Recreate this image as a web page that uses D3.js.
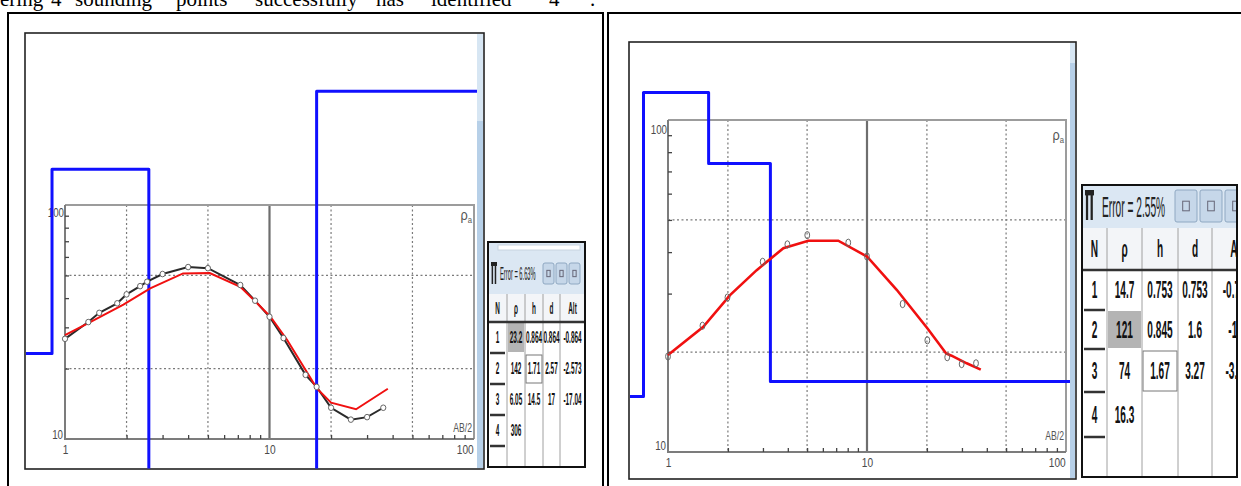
<!DOCTYPE html>
<html><head><meta charset="utf-8">
<script src="https://cdn.jsdelivr.net/npm/d3@7"></script>
<style>body{margin:0;background:#fff;overflow:hidden}svg{display:block}</style>
</head><body>
<svg id="c" width="1241" height="486"></svg>
<script>
// ---------------- DATA ----------------
const topWords = ["ering","4","sounding","points","successfully","has","identified","4","."];

// Left sounding (AB/2 in m, apparent resistivity in ohm-m)
const leftObsX  = [1,1.3,1.47,1.8,2,2.33,2.52,3,4,5,7.2,8.5,10,11.7,15,17,20,25,30,36];
const leftObsY  = [26.8,31.6,34.6,38,41.5,45,47,50.7,54.3,53.7,45.5,39,33.3,27,18.8,16.7,13.6,12.1,12.4,13.6];
const leftCalcX = [1,1.3,1.93,2.61,3.78,5.1,7.2,8.7,10.1,12.2,15.3,17,20,26.5,37.9];
const leftCalcY = [27.8,31.3,37.5,44,51,51.2,44.7,38,33.3,26.5,19.2,16.5,14.3,13.4,16.4];
const leftModelRho   = [23.2,142,6.05,306];
const leftModelDepth = [0.864,2.57,17];
const leftError = "Error = 6.63%";
const leftTableHead = ["N","\u03C1","h","d","Alt"];
const leftTableRows = [["1","23.2","0.864","0.864","-0.864"],["2","142","1.71","2.57","-2.573"],["3","6.05","14.5","17","-17.04"],["4","306","","",""]];

// Right sounding
const rightObsX  = [1,1.49,1.99,2.99,3.98,5.01,8.05,10,15.1,20.1,25.3,29.9,35.3];
const rightObsY  = [19.4,24.0,29.2,37.4,42.2,45.0,42.7,38.8,27.9,21.7,19.3,18.4,18.5];
const rightCalcX = [1,1.5,2.05,2.79,3.8,5.07,7.17,10,14.1,20.1,25,26.6,31.7,37.3];
const rightCalcY = [19.6,23.8,29.7,35.3,41.1,43.3,43.3,38.8,30.8,23.6,19.8,19.5,18.5,17.7];
const rightModelRho   = [14.7,121,74,16.3];
const rightModelDepth = [0.753,1.6,3.27];
const rightError = "Error = 2.55%";
const rightTableHead = ["N","\u03C1","h","d","Alt"];
const rightTableRows = [["1","14.7","0.753","0.753","-0.753"],["2","121","0.845","1.6","-1.6"],["3","74","1.67","3.27","-3.27"],["4","16.3","","",""]];

const xLabels = [1,10,100];
const minorX = [2,3,4,5,6,7,8,9,20,30,40,50,60,70,80,90];
const minorY = [20,30,40,50,60,70,80,90];
const gridXDashed = [2,5,20,50];
const gridXSolid = [10];
const gridY = [20,50];

// ---------------- DRAW ----------------
const svg = d3.select("#c");
const SANS = "'Liberation Sans', Arial, sans-serif";
function txt(g, x, y, s, o = {}) {
  return g.append("text")
    .attr("transform", `translate(${x},${y}) scale(${o.sx || 1},1)`)
    .attr("text-anchor", o.anchor || "start")
    .attr("font-family", o.family || SANS)
    .attr("font-size", o.size || 12)
    .attr("font-weight", o.weight || "normal")
    .attr("font-style", o.style || "normal")
    .attr("fill", o.fill || "#000")
    .text(s);
}

// top line of document text (cut by the top edge, as in the source page)
const topX = [0,51,75,176,255,376,431,549,590];
topWords.forEach((w, i) => txt(svg, topX[i], 6, w, {family: "'Liberation Serif','Times New Roman',serif", size: 21}));

// document table frames
const frame = svg.append("g").attr("stroke", "#000").attr("stroke-width", 2).attr("fill", "none");
frame.append("path").attr("d", "M8,487V13H603V487");
frame.append("path").attr("d", "M608,487V13H1245");

function panel(p, d) {
  const g = svg.append("g");
  g.append("rect").attr("x", p.frame[0]).attr("y", p.frame[1]).attr("width", p.frame[2] - p.frame[0]).attr("height", p.frame[3] - p.frame[1])
    .attr("fill", "#fff").attr("stroke", "#222").attr("stroke-width", 1.6);
  g.append("rect").attr("x", p.bar[0]).attr("y", p.frame[1] + 1).attr("width", p.frame[2] - p.bar[0] - 1).attr("height", p.frame[3] - p.frame[1] - 2).attr("fill", "#b7d0e8");
  g.append("rect").attr("x", p.bar[0]).attr("y", p.frame[1] + 1).attr("width", p.frame[2] - p.bar[0] - 1).attr("height", p.bar[1]).attr("fill", "#d7e6f3");

  const x = d3.scaleLog().domain([1, 100]).range([p.x0, p.x1]);
  const y = d3.scaleLog().domain([10, 100]).range([p.yBot, p.yTop]);

  g.selectAll(null).data(gridXDashed).join("line")
    .attr("x1", v => x(v)).attr("x2", v => x(v)).attr("y1", p.yTop).attr("y2", p.yBot)
    .attr("stroke", "#7a7a7a").attr("stroke-width", 1.2).attr("stroke-dasharray", "2,2.5");
  g.selectAll(null).data(gridY).join("line")
    .attr("y1", v => y(v)).attr("y2", v => y(v)).attr("x1", p.x0).attr("x2", p.x1)
    .attr("stroke", "#7a7a7a").attr("stroke-width", 1.2).attr("stroke-dasharray", "2,2.5");
  g.selectAll(null).data(gridXSolid).join("line")
    .attr("x1", v => x(v)).attr("x2", v => x(v)).attr("y1", p.yTop).attr("y2", p.yBot)
    .attr("stroke", "#6e6e6e").attr("stroke-width", 2.2);

  g.append("path").attr("d", `M${p.x0},${p.yTop}H${p.x1}V${p.yBot}`).attr("fill", "none").attr("stroke", "#9c9c9c").attr("stroke-width", 2);
  g.append("path").attr("d", `M${p.x0},${p.yTop}V${p.yBot}H${p.x1}`).attr("fill", "none").attr("stroke", "#7c7c7c").attr("stroke-width", 2);

  g.append("g").attr("transform", `translate(0,${p.yBot})`)
    .call(d3.axisBottom(x).tickValues(minorX).tickSize(-4).tickFormat(""))
    .call(a => a.select(".domain").remove())
    .selectAll("line").attr("stroke", "#444").attr("stroke-width", 1.3);
  g.append("g").attr("transform", `translate(${p.x0},0)`)
    .call(d3.axisLeft(y).tickValues(minorY).tickSize(-4).tickFormat(""))
    .call(a => a.select(".domain").remove())
    .selectAll("line").attr("stroke", "#444").attr("stroke-width", 1.3);

  const ax = g.append("g").attr("transform", `translate(0,${p.yBot})`)
    .call(d3.axisBottom(x).tickValues(xLabels).tickSize(0).tickPadding(p.pad).tickFormat(d3.format("d")));
  ax.select(".domain").remove();
  ax.selectAll("text").attr("font-family", SANS).attr("font-size", 13).attr("fill", "#4a4a4a")
    .attr("transform", "scale(0.78,1)")
    .attr("text-anchor", v => v === 100 ? "end" : "middle")
    .attr("x", v => v === 100 ? -1 : 0);

  txt(g, p.x0 - 1, y(100) + p.y100dy, "100", {anchor: "end", size: 13, sx: 0.75, fill: "#4a4a4a"});
  txt(g, p.x0 - 2, y(10) - p.y10dy, "10", {anchor: "end", size: 13, sx: 0.75, fill: "#4a4a4a"});

  const ra = g.append("text").attr("transform", `translate(${p.x1 - 2},${y(100) + p.rhoDy}) scale(0.85,1)`)
    .attr("text-anchor", "end").attr("font-family", SANS).attr("fill", "#555");
  ra.append("tspan").attr("font-size", 15).text("\u03C1");
  ra.append("tspan").attr("font-size", 9).attr("dy", 3).text("a");
  txt(g, p.x1 - 2, p.yBot - p.abDy, "AB/2", {anchor: "end", size: 12, sx: 0.72, fill: "#555"});

  const cid = "clip" + p.id;
  svg.append("clipPath").attr("id", cid).append("rect")
    .attr("x", p.frame[0] + 1).attr("y", p.frame[1] + 1).attr("width", p.bar[0] - p.frame[0] - 1).attr("height", p.frame[3] - p.frame[1] - 1.5);
  const mpts = [[0.2, d.rho[0]]];
  d.depth.forEach((dp, i) => mpts.push([dp, d.rho[i + 1]]));
  mpts.push([5000, d.rho[d.rho.length - 1]]);
  g.append("path").attr("clip-path", `url(#${cid})`)
    .attr("d", d3.line().x(q => x(q[0])).y(q => y(q[1])).curve(d3.curveStepAfter)(mpts))
    .attr("fill", "none").attr("stroke", "#1010ff").attr("stroke-width", 3).attr("stroke-linejoin", "round");

  const line = d3.line().x(q => x(q[0])).y(q => y(q[1]));
  const obs = d.obsX.map((v, i) => [v, d.obsY[i]]);
  const calc = d.calcX.map((v, i) => [v, d.calcY[i]]);
  if (d.obsLine) {
    g.append("path").attr("d", line(obs)).attr("fill", "none").attr("stroke", "#2a2a2a").attr("stroke-width", 2);
  }
  g.append("path").attr("d", line(calc)).attr("fill", "none").attr("stroke", "#f01010").attr("stroke-width", d.redW);
  g.selectAll(null).data(obs).join("ellipse")
    .attr("cx", q => x(q[0])).attr("cy", q => y(q[1])).attr("rx", d.rx).attr("ry", d.ry)
    .attr("fill", d.obsLine ? "#fff" : "none").attr("stroke", "#666").attr("stroke-width", 1);
}

panel({id: "L", x0: 65, x1: 474, yTop: 205, yBot: 439, frame: [25, 33, 484, 469], bar: [477, 87], pad: 6,
       y100dy: 12, y10dy: 0, rhoDy: 15, abDy: 7},
      {obsX: leftObsX, obsY: leftObsY, calcX: leftCalcX, calcY: leftCalcY, rho: leftModelRho, depth: leftModelDepth,
       obsLine: true, redW: 2, rx: 2.6, ry: 2.8});
panel({id: "R", x0: 668, x1: 1066, yTop: 120, yBot: 452, frame: [629, 42, 1076, 479], bar: [1070, 20], pad: 6,
       y100dy: 14, y10dy: 2, rhoDy: 20, abDy: 12},
      {obsX: rightObsX, obsY: rightObsY, calcX: rightCalcX, calcY: rightCalcY, rho: rightModelRho, depth: rightModelDepth,
       obsLine: false, redW: 2.6, rx: 2.4, ry: 3.6});

// ---------------- TABLES ----------------
function table(c, head, rows, title) {
  const g = svg.append("g");
  const cid = "tclip" + c.id;
  svg.append("clipPath").attr("id", cid).append("rect").attr("x", c.x).attr("y", c.y).attr("width", c.w).attr("height", c.h);
  const gc = g.append("g").attr("clip-path", `url(#${cid})`);
  gc.append("rect").attr("x", c.x).attr("y", c.y).attr("width", c.w).attr("height", c.h).attr("fill", "#fff");
  gc.append("rect").attr("x", c.x).attr("y", c.y).attr("width", c.w).attr("height", c.headTop - c.y).attr("fill", "#dbe7f3");
  if (c.whiteBar) gc.append("rect").attr("x", c.whiteBar[0]).attr("y", c.whiteBar[1]).attr("width", c.whiteBar[2]).attr("height", c.whiteBar[3]).attr("fill", "#fff").attr("stroke", "#c8d4e0");
  gc.append("rect").attr("x", c.x).attr("y", c.headTop).attr("width", c.w).attr("height", c.rows[0] - c.headTop).attr("fill", "#f3f5f8");
  const ix = c.icon[0], iy = c.icon[1], iw = c.icon[2], ih = c.icon[3];
  gc.append("rect").attr("x", ix).attr("y", iy).attr("width", iw).attr("height", ih * 0.18).attr("fill", "#222");
  gc.append("rect").attr("x", ix + iw * 0.1).attr("y", iy).attr("width", iw * 0.25).attr("height", ih).attr("fill", "#222");
  gc.append("rect").attr("x", ix + iw * 0.62).attr("y", iy).attr("width", iw * 0.25).attr("height", ih).attr("fill", "#222");
  txt(gc, c.titleX, c.titleY, title, {size: c.titleSize, sx: c.titleSx, fill: "#222"});
  c.buttons.forEach(bx => {
    gc.append("rect").attr("x", bx).attr("y", c.btnY).attr("width", c.btnW).attr("height", c.btnH).attr("rx", 2)
      .attr("fill", "#c6d7e9").attr("stroke", "#8fa8c2");
    gc.append("rect").attr("x", bx + c.btnW * 0.35).attr("y", c.btnY + c.btnH * 0.35).attr("width", c.btnW * 0.3).attr("height", c.btnH * 0.3)
      .attr("fill", "none").attr("stroke", "#667").attr("stroke-width", 1);
  });
  gc.append("rect").attr("x", c.cols[c.shade[1]] + 1).attr("y", c.rows[c.shade[0]] + 1).attr("width", c.cols[c.shade[1] + 1] - c.cols[c.shade[1]] - 2)
    .attr("height", c.rows[c.shade[0] + 1] - c.rows[c.shade[0]] - 2).attr("fill", "#b4b4b4");
  gc.append("rect").attr("x", c.cols[c.box[1]] + 1).attr("y", c.rows[c.box[0]] + 2).attr("width", c.cols[c.box[1] + 1] - c.cols[c.box[1]] - 2)
    .attr("height", c.rows[c.box[0] + 1] - c.rows[c.box[0]] - 3).attr("fill", "none").attr("stroke", "#777");
  c.cols.slice(1, -1).forEach(cx => gc.append("line").attr("x1", cx).attr("x2", cx).attr("y1", c.headTop).attr("y2", c.y + c.h).attr("stroke", "#a0a0a0"));
  gc.append("line").attr("x1", c.x).attr("x2", c.x + c.w).attr("y1", c.rows[0]).attr("y2", c.rows[0]).attr("stroke", "#333").attr("stroke-width", 2.5);
  c.rows.slice(1).forEach(ry => gc.append("line").attr("x1", c.x + 2).attr("x2", c.cols[1] - 2).attr("y1", ry).attr("y2", ry).attr("stroke", "#333").attr("stroke-width", 2.5));
  head.forEach((h, j) => txt(gc, (c.cols[j] + c.cols[j + 1]) / 2, (c.headTop + c.rows[0]) / 2 + c.cellSize * 0.36, h,
    {anchor: "middle", size: c.cellSize, sx: c.cellSx, weight: "bold", fill: "#111"}));
  rows.forEach((r, i) => r.forEach((v, j) => {
    if (!v) return;
    txt(gc, (c.cols[j] + c.cols[j + 1]) / 2, (c.rows[i] + c.rows[i + 1]) / 2 + c.cellSize * 0.36, v,
      {anchor: "middle", size: c.cellSize, sx: c.cellSx, weight: "bold", fill: "#111"});
  }));
  g.append("rect").attr("x", c.x).attr("y", c.y).attr("width", c.w).attr("height", c.h).attr("fill", "none").attr("stroke", "#111").attr("stroke-width", 2);
}

table({id: "L", x: 488, y: 242, w: 97, h: 225, headTop: 294, rows: [322, 353, 384, 415, 446],
       cols: [488, 507, 525, 543, 560, 585], whiteBar: [498, 245, 82, 5], icon: [491, 262, 6, 22],
       titleX: 500, titleY: 280, titleSize: 18, titleSx: 0.32, buttons: [543, 556, 569], btnY: 263, btnW: 11, btnH: 21,
       cellSize: 16, cellSx: 0.4, shade: [0, 1], box: [1, 2]},
      leftTableHead, leftTableRows, leftError);
table({id: "R", x: 1082, y: 185, w: 155, h: 292, headTop: 228, rows: [270, 310, 349, 392, 437],
       cols: [1082, 1107, 1142, 1178, 1212, 1262], whiteBar: null, icon: [1085, 190, 9, 30],
       titleX: 1102, titleY: 217, titleSize: 30, titleSx: 0.34, buttons: [1175, 1200, 1225], btnY: 190, btnW: 22, btnH: 32,
       cellSize: 23, cellSx: 0.44, shade: [1, 1], box: [2, 2]},
      rightTableHead, rightTableRows, rightError);
</script>
</body></html>
